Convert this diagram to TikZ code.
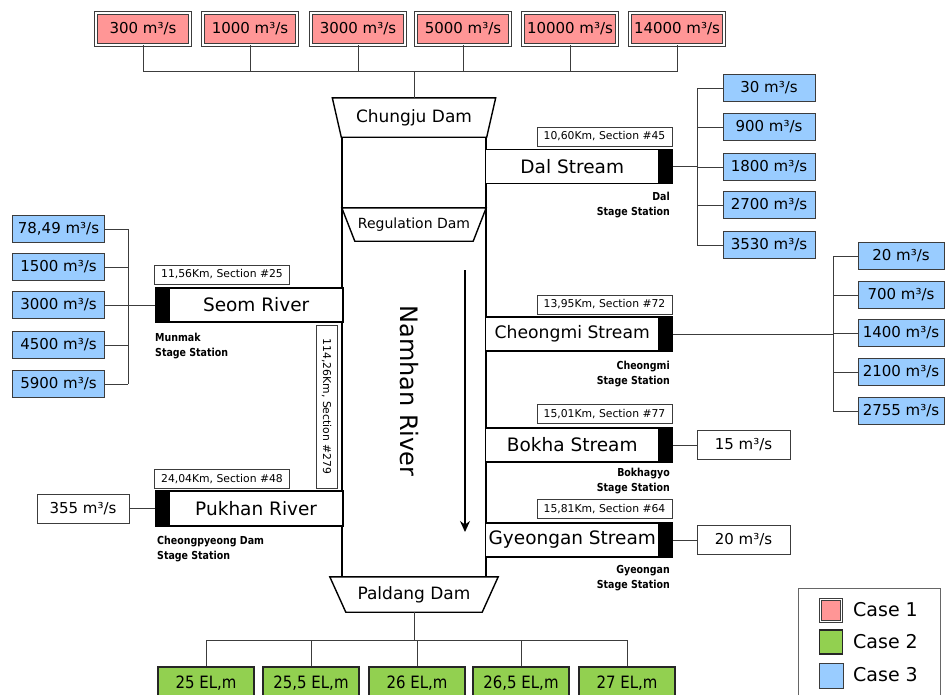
\documentclass[tikz,border=0pt]{standalone}
\usepackage{fontspec}
\setmainfont{DejaVu Sans}
\newfontfamily\condfont[FakeStretch=0.88]{DejaVu Sans}
\newfontfamily\statfont[FakeStretch=0.86]{DejaVu Sans}
\usetikzlibrary{arrows.meta}
\definecolor{redc}{RGB}{255,150,150}
\definecolor{bluec}{RGB}{153,204,255}
\definecolor{greenc}{RGB}{146,208,80}
\definecolor{linec}{RGB}{60,60,60}
\newcommand\myfs[1]{\fontsize{#1}{#1}\selectfont}
\tikzset{
  redbox/.style={draw=linec, line width=0.7pt, double=white, double distance=2pt, fill=redc, minimum width=94, minimum height=32, inner sep=0, font=\myfs{15}},
  bluebox/.style={draw=linec, line width=0.8pt, fill=bluec, minimum width=92, minimum height=27, inner sep=0, font=\myfs{15}},
  whitebox/.style={draw=linec, line width=0.8pt, fill=white, minimum width=92, minimum height=29, inner sep=0, font=\myfs{15}},
  greenbox/.style={draw=black!85, line width=1.2pt, fill=greenc, minimum width=96, minimum height=32, inner sep=0, font=\condfont\myfs{17}},
  seclabel/.style={draw=linec, line width=0.7pt, fill=white, minimum width=135, minimum height=19, inner sep=0, font=\myfs{10.8}},
  streambox/.style={draw=black, line width=1.4pt, fill=white, minimum width=173.5, minimum height=34, inner sep=0, font=\myfs{18.5}},
  blk/.style={draw=black, fill=black, line width=1.4pt, minimum width=12, minimum height=34, inner sep=0},
  stationR/.style={anchor=north east, align=right, inner sep=0, font=\statfont\bfseries\fontsize{11}{15}\selectfont},
  stationL/.style={anchor=north west, align=left, inner sep=0, font=\statfont\bfseries\fontsize{11}{15}\selectfont},
  conn/.style={draw=linec, line width=0.8pt},
  damline/.style={draw=black, line width=1.4pt, fill=white},
  legtext/.style={anchor=west, inner sep=0, font=\myfs{19}}
}
\begin{document}
\begin{tikzpicture}[x=1pt,y=-1pt]
\useasboundingbox (0,0) rectangle (945,694);
% ---------- top red boxes ----------
\node[redbox] (r1) at (143,29) {300 m³/s};
\node[redbox] (r2) at (250,29) {1000 m³/s};
\node[redbox] (r3) at (358,29) {3000 m³/s};
\node[redbox] (r4) at (463,29) {5000 m³/s};
\node[redbox] (r5) at (570,29) {10000 m³/s};
\node[redbox] (r6) at (677,29) {14000 m³/s};
\coordinate (topbus) at (414,71);
\draw[conn] (r1.south) -- (r1.south |- topbus) -- (r6.south |- topbus) -- (r6.south);
\foreach \n in {r2,r3,r4,r5} \draw[conn] (\n.south) -- (\n.south |- topbus);
% ---------- river ----------
\node[draw=black, line width=1.4pt, minimum width=144, minimum height=440, inner sep=0] (river) at (414,357) {};
\node[minimum width=163, minimum height=39, inner sep=0] (chungju) at (414,117.5) {};
\draw[damline] (chungju.north west) -- (chungju.north east) -- ([xshift=-9]chungju.south east) -- ([xshift=9]chungju.south west) -- cycle;
\node[font=\myfs{17}] at (chungju.center) {Chungju Dam};
\draw[conn] (topbus) -- (chungju.north);
\node[minimum width=144, minimum height=33, inner sep=0] (regdam) at (414,224.5) {};
\draw[damline] (regdam.north west) -- (regdam.north east) -- ([xshift=-13]regdam.south east) -- ([xshift=13]regdam.south west) -- cycle;
\node[font=\myfs{14}] at (regdam.center) {Regulation Dam};
\node[minimum width=168, minimum height=35, inner sep=0] (paldang) at (414,594.5) {};
\draw[damline] (paldang.north west) -- (paldang.north east) -- ([xshift=-16]paldang.south east) -- ([xshift=16]paldang.south west) -- cycle;
\node[font=\myfs{17}] at (paldang.center) {Paldang Dam};
\node[rotate=-90, font=\myfs{24}, inner sep=0] (namhan) at (409,391) {Namhan River};
\coordinate (a1) at (465,270);
\coordinate (a2) at (465,532);
\draw[line width=1.4pt, -{Stealth[length=11pt, width=10pt]}] (a1) -- (a2);
\node[seclabel, rotate=-90, minimum width=163, minimum height=21] (mainsec) at (326.5,406.5) {114,26Km, Section \#279};
% ---------- Dal Stream ----------
\node[streambox] (dal) at (572.25,166.5) {Dal Stream};
\node[blk, anchor=west] (dalblk) at (dal.east) {};
\node[seclabel] (dalsec) at (604.5,136.5) {10,60Km, Section \#45};
\node[stationR] (dalst) at (670,192) {Dal\\Stage Station};
\node[bluebox] (d1) at (769,88) {30 m³/s};
\node[bluebox] (d2) at (769,127) {900 m³/s};
\node[bluebox] (d3) at (769,167) {1800 m³/s};
\node[bluebox] (d4) at (769,205) {2700 m³/s};
\node[bluebox] (d5) at (769,245) {3530 m³/s};
\coordinate (dbus) at (697,167);
\draw[conn] (dalblk.east) -- (dalblk.east -| dbus);
\draw[conn] (d1.west -| dbus) -- (d5.west -| dbus);
\foreach \n in {d1,d2,d3,d4,d5} \draw[conn] (\n.west -| dbus) -- (\n.west);
% ---------- Seom River ----------
\node[blk] (seomblk) at (162,305) {};
\node[streambox, anchor=west] (seom) at (seomblk.east) {Seom River};
\node[seclabel] (seomsec) at (222,274.5) {11,56Km, Section \#25};
\node[stationL] (seomst) at (155,333) {Munmak\\Stage Station};
\node[bluebox] (s1) at (58.5,229) {78,49 m³/s};
\node[bluebox] (s2) at (58.5,267) {1500 m³/s};
\node[bluebox] (s3) at (58.5,305) {3000 m³/s};
\node[bluebox] (s4) at (58.5,345) {4500 m³/s};
\node[bluebox] (s5) at (58.5,384) {5900 m³/s};
\coordinate (sbus) at (128,305);
\draw[conn] (seomblk.west) -- (seomblk.west -| sbus);
\draw[conn] (s1.east -| sbus) -- (s5.east -| sbus);
\foreach \n in {s1,s2,s3,s4,s5} \draw[conn] (\n.east) -- (\n.east -| sbus);
% ---------- Pukhan River ----------
\node[blk, minimum height=35] (pukblk) at (162,508.5) {};
\node[streambox, minimum height=35, anchor=west] (puk) at (pukblk.east) {Pukhan River};
\node[seclabel] (puksec) at (222,479) {24,04Km, Section \#48};
\node[stationL] (pukst) at (157,536) {Cheongpyeong Dam\\Stage Station};
\node[whitebox] (p355) at (83,508.5) {355 m³/s};
\draw[conn] (p355.east) -- (pukblk.west);
% ---------- Cheongmi Stream ----------
\node[streambox, font=\myfs{17.2}] (cheong) at (572.25,334) {Cheongmi Stream};
\node[blk, anchor=west] (cheongblk) at (cheong.east) {};
\node[seclabel] (cheongsec) at (604.5,304.5) {13,95Km, Section \#72};
\node[stationR] (cheongst) at (670,361) {Cheongmi\\Stage Station};
\node[bluebox, minimum width=86] (c1) at (901,256) {20 m³/s};
\node[bluebox, minimum width=86] (c2) at (901,295) {700 m³/s};
\node[bluebox, minimum width=86] (c3) at (901,333) {1400 m³/s};
\node[bluebox, minimum width=86] (c4) at (901,372) {2100 m³/s};
\node[bluebox, minimum width=86] (c5) at (901,411) {2755 m³/s};
\coordinate (cbus) at (833,333);
\draw[conn] (cheongblk.east) -- (cheongblk.east -| cbus);
\draw[conn] (c1.west -| cbus) -- (c5.west -| cbus);
\foreach \n in {c1,c2,c3,c4,c5} \draw[conn] (\n.west -| cbus) -- (\n.west);
% ---------- Bokha Stream ----------
\node[streambox] (bokha) at (572.25,445) {Bokha Stream};
\node[blk, anchor=west] (bokhablk) at (bokha.east) {};
\node[seclabel] (bokhasec) at (604.5,414) {15,01Km, Section \#77};
\node[stationR] (bokhast) at (670,468) {Bokhagyo\\Stage Station};
\node[whitebox, minimum width=93] (b15) at (743.5,445) {15 m³/s};
\draw[conn] (bokhablk.east) -- (b15.west);
% ---------- Gyeongan Stream ----------
\node[streambox] (gyeo) at (572.25,540) {Gyeongan Stream};
\node[blk, anchor=west] (gyeoblk) at (gyeo.east) {};
\node[seclabel] (gyeosec) at (604.5,509) {15,81Km, Section \#64};
\node[stationR] (gyeost) at (670,565) {Gyeongan\\Stage Station};
\node[whitebox, minimum width=93] (g20) at (743.5,540) {20 m³/s};
\draw[conn] (gyeoblk.east) -- (g20.west);
% ---------- bottom green boxes ----------
\node[greenbox] (e1) at (206,683) {25 EL,m};
\node[greenbox] (e2) at (311,683) {25,5 EL,m};
\node[greenbox] (e3) at (417,683) {26 EL,m};
\node[greenbox] (e4) at (521,683) {26,5 EL,m};
\node[greenbox] (e5) at (627,683) {27 EL,m};
\coordinate (botbus) at (414,640);
\draw[conn] (paldang.south) -- (botbus);
\draw[conn] (e1.north |- botbus) -- (e5.north |- botbus);
\foreach \n in {e1,e2,e3,e4,e5} \draw[conn] (\n.north |- botbus) -- (\n.north);
% ---------- legend ----------
\node[draw=black!60, line width=0.9pt, minimum width=142, minimum height=112, inner sep=0] (leg) at (869,644) {};
\node[draw=linec, line width=0.7pt, double=white, double distance=1.5pt, fill=redc, minimum width=21, minimum height=22, inner sep=0] (k1) at (831,610.5) {};
\node[draw=black!85, line width=1.2pt, fill=greenc, minimum width=23, minimum height=24, inner sep=0] (k2) at (831,642) {};
\node[draw=linec, line width=0.8pt, fill=bluec, minimum width=24, minimum height=25, inner sep=0] (k3) at (831,675.5) {};
\node[legtext] (t1) at (853,610) {Case 1};
\node[legtext] (t2) at (853,642) {Case 2};
\node[legtext] (t3) at (853,675) {Case 3};
\end{tikzpicture}
\end{document}
